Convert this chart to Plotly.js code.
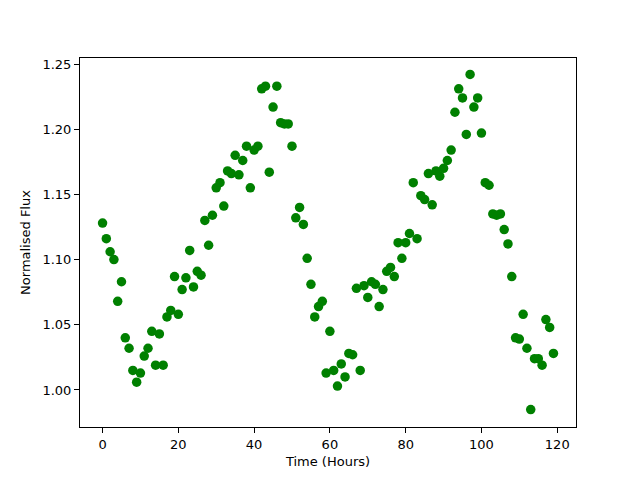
<!DOCTYPE html>
<html>
<head>
<meta charset="utf-8">
<script src="https://cdn.plot.ly/plotly-3.0.1.min.js"></script>
<style>html,body{margin:0;padding:0;background:#fff}#plot{width:640px;height:480px}</style>
</head>
<body>
<div id="plot"></div>
<script>
const hours = [];
for (let i = 0; i < 120; i++) hours.push(i);
const flux = [
1.128,1.116,1.106,1.100,1.068,1.083,1.040,1.032,1.015,1.006,
1.013,1.026,1.032,1.045,1.019,1.043,1.019,1.056,1.061,1.087,
1.058,1.077,1.086,1.107,1.079,1.091,1.088,1.130,1.111,1.134,
1.155,1.159,1.141,1.168,1.166,1.180,1.165,1.176,1.187,1.155,
1.184,1.187,1.231,1.233,1.167,1.217,1.233,1.205,1.204,1.204,
1.187,1.132,1.140,1.127,1.101,1.081,1.056,1.064,1.068,1.013,
1.045,1.015,1.003,1.020,1.010,1.028,1.027,1.078,1.015,1.080,
1.071,1.083,1.081,1.064,1.077,1.091,1.094,1.087,1.113,1.101,
1.113,1.120,1.159,1.116,1.149,1.146,1.166,1.142,1.168,1.164,
1.170,1.176,1.184,1.213,1.231,1.224,1.196,1.242,1.217,1.224,
1.197,1.159,1.157,1.135,1.134,1.135,1.123,1.112,1.087,1.040,
1.039,1.058,1.032,0.985,1.024,1.024,1.019,1.054,1.048,1.028
];
const font = {family: 'DejaVu Sans', size: 13, color: '#000'};
const axisCommon = {
  showline: true, mirror: true, linecolor: '#000', linewidth: 1,
  ticks: 'outside', ticklen: 5, tickcolor: '#000', tickwidth: 1,
  showgrid: false, zeroline: false, tickfont: font
};
Plotly.newPlot('plot', [{
  x: hours, y: flux, type: 'scatter', mode: 'markers',
  marker: {color: '#008000', size: 9.5}
}], {
  width: 640, height: 480,
  margin: {l: 80, r: 64, t: 58, b: 53},
  paper_bgcolor: '#fff', plot_bgcolor: '#fff',
  font: font,
  showlegend: false,
  xaxis: Object.assign({}, axisCommon, {
    range: [-5.95, 124.95], dtick: 20, tick0: 0,
    title: {text: 'Time (Hours)', font: font, standoff: 6}
  }),
  yaxis: Object.assign({}, axisCommon, {
    range: [0.9716, 1.2546], dtick: 0.05, tick0: 1.0, tickformat: '.2f',
    title: {text: 'Normalised Flux', font: font, standoff: 8}
  })
}, {displayModeBar: false, staticPlot: true});
</script>
</body>
</html>
